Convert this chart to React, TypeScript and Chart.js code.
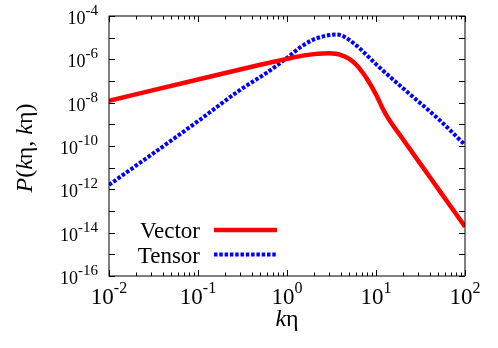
import React, { useEffect, useRef } from "react";
import { Chart, registerables } from "chart.js";

Chart.register(...registerables);

// ---- data ----
const vectorK = [0.01, 0.1, 0.5, 1, 1.5, 2, 2.5, 3, 3.5, 4, 5, 6, 7, 8, 10, 12, 14, 20, 30, 50, 100];
const vectorP = [1.23e-8, 1.17e-7, 5.6e-7, 1.05e-6, 1.48e-6, 1.74e-6, 1.86e-6, 1.9e-6, 1.82e-6, 1.62e-6, 1.05e-6, 5.6e-7, 2.6e-7, 1.17e-7, 2.4e-8, 5.0e-9, 1.66e-9, 2.1e-10, 2.0e-11, 1.05e-12, 1.9e-14];

const tensorK = [0.01, 0.1, 0.3, 0.6, 1, 1.5, 2, 2.5, 3, 3.5, 4, 4.5, 5, 6, 7, 10, 20, 50, 100];
const tensorP = [1.6e-12, 1.4e-9, 4.0e-8, 2.5e-7, 1.17e-6, 4.3e-6, 8.3e-6, 1.12e-5, 1.32e-5, 1.41e-5, 1.32e-5, 1.05e-5, 7.9e-6, 4.4e-6, 2.5e-6, 6.0e-7, 4.7e-8, 1.8e-9, 1.12e-10];

const seriesLabels = ["Vector", "Tensor"];
const xTickExponents = [-2, -1, 0, 1, 2];
const yTickExponents = [-4, -6, -8, -10, -12, -14, -16];
const xMin = 1e-2;
const xMax = 1e2;
const yMin = 1e-16;
const yMax = 1e-4;

const SERIF = '"Liberation Serif", "DejaVu Serif", serif';

function drawPow(ctx: CanvasRenderingContext2D, exp: number, x: number, baseline: number, baseSize: number, supSize: number, raise: number, align: "center" | "right") {
  const base = "10";
  const sup = String(exp);
  ctx.font = `${baseSize}px ${SERIF}`;
  const wb = ctx.measureText(base).width;
  ctx.font = `${supSize}px ${SERIF}`;
  const ws = ctx.measureText(sup).width;
  const total = wb + ws;
  const start = align === "center" ? x - total / 2 : x - total;
  ctx.textAlign = "left";
  ctx.textBaseline = "alphabetic";
  ctx.font = `${baseSize}px ${SERIF}`;
  ctx.fillText(base, start, baseline);
  ctx.font = `${supSize}px ${SERIF}`;
  ctx.fillText(sup, start + wb, baseline - raise);
}

function drawMixed(ctx: CanvasRenderingContext2D, parts: [string, boolean][], size: number, cx: number, baseline: number) {
  let total = 0;
  const widths: number[] = [];
  for (const [t, it] of parts) {
    ctx.font = `${it ? "italic " : ""}${size}px ${SERIF}`;
    const w = ctx.measureText(t).width;
    widths.push(w);
    total += w;
  }
  let x = cx - total / 2;
  ctx.textAlign = "left";
  ctx.textBaseline = "alphabetic";
  parts.forEach(([t, it], i) => {
    ctx.font = `${it ? "italic " : ""}${size}px ${SERIF}`;
    ctx.fillText(t, x, baseline);
    x += widths[i];
  });
}

const decor = {
  id: "decor",
  afterDraw(chart: any) {
    const { ctx, chartArea: a, scales } = chart;
    const xs = scales.x;
    const ys = scales.y;
    ctx.save();
    ctx.fillStyle = "#000";
    ctx.strokeStyle = "#000";
    ctx.lineWidth = 1;
    ctx.strokeRect(a.left, a.top, a.right - a.left, a.bottom - a.top);

    // x ticks (inward, mirrored)
    ctx.beginPath();
    for (let e = -2; e <= 2; e++) {
      for (let m = 1; m <= 9; m++) {
        const v = m * Math.pow(10, e);
        if (v > xMax * 1.0001) break;
        const px = Math.round(xs.getPixelForValue(v)) + 0.5;
        const len = m === 1 ? 6 : 3.5;
        ctx.moveTo(px, a.bottom);
        ctx.lineTo(px, a.bottom - len);
        ctx.moveTo(px, a.top);
        ctx.lineTo(px, a.top + len);
      }
    }
    // y ticks each decade
    for (let e = -16; e <= -4; e++) {
      const py = Math.round(ys.getPixelForValue(Math.pow(10, e))) + 0.5;
      ctx.moveTo(a.left, py);
      ctx.lineTo(a.left + 6, py);
      ctx.moveTo(a.right, py);
      ctx.lineTo(a.right - 6, py);
    }
    ctx.stroke();

    // x labels
    for (const e of xTickExponents) {
      const px = xs.getPixelForValue(Math.pow(10, e));
      drawPow(ctx, e, px, a.bottom + 28, 23, 16, 11, "center");
    }
    // y labels
    for (const e of yTickExponents) {
      const py = ys.getPixelForValue(Math.pow(10, e));
      drawPow(ctx, e, a.left - 11, py + 8, 18, 15, 9, "right");
    }

    // axis titles
    drawMixed(ctx, [["k", true], ["η", false]], 24, (a.left + a.right) / 2, a.bottom + 50);
    ctx.save();
    ctx.translate(32, (a.top + a.bottom) / 2 + 2);
    ctx.rotate(-Math.PI / 2);
    drawMixed(ctx, [["P", true], ["(", false], ["k", true], ["η, ", false], ["k", true], ["η)", false]], 24, 0, 0);
    ctx.restore();

    // legend
    const ds = chart.data.datasets;
    const rows = [230, 254.5];
    ds.forEach((d: any, i: number) => {
      ctx.font = `23px ${SERIF}`;
      ctx.textAlign = "right";
      ctx.textBaseline = "alphabetic";
      ctx.fillStyle = "#000";
      ctx.fillText(d.label, 200, rows[i] + 8);
      ctx.beginPath();
      ctx.strokeStyle = d.borderColor;
      ctx.lineWidth = d.borderWidth;
      ctx.lineCap = "butt";
      ctx.setLineDash(d.borderDash || []);
      ctx.moveTo(214, rows[i]);
      ctx.lineTo(277, rows[i]);
      ctx.stroke();
      ctx.setLineDash([]);
    });
    ctx.restore();
  },
};

export default function App() {
  const ref = useRef<HTMLCanvasElement>(null);
  useEffect(() => {
    if (!ref.current) return;
    const chart = new Chart(ref.current, {
      type: "line",
      data: {
        datasets: [
          {
            label: seriesLabels[0],
            data: vectorK.map((k, i) => ({ x: k, y: vectorP[i] })),
            borderColor: "#ff0000",
            borderWidth: 4.5,
            pointRadius: 0,
            cubicInterpolationMode: "monotone",
            fill: false,
          },
          {
            label: seriesLabels[1],
            data: tensorK.map((k, i) => ({ x: k, y: tensorP[i] })),
            borderColor: "#0000ff",
            borderWidth: 4,
            borderDash: [3.5, 1.8],
            borderCapStyle: "butt",
            pointRadius: 0,
            cubicInterpolationMode: "monotone",
            fill: false,
          },
        ],
      } as any,
      options: {
        responsive: false,
        animation: false,
        devicePixelRatio: 1,
        layout: { padding: { left: 109, right: 33, top: 16, bottom: 72 } },
        scales: {
          x: { type: "logarithmic", min: xMin, max: xMax, display: false },
          y: { type: "logarithmic", min: yMin, max: yMax, display: false },
        },
        plugins: { legend: { display: false }, tooltip: { enabled: false } },
      } as any,
      plugins: [decor],
    });
    return () => chart.destroy();
  }, []);
  return (
    <div style={{ position: "absolute", left: 0, top: 0, width: 498, height: 348, background: "#fff" }}>
      <canvas ref={ref} width={498} height={348} style={{ width: 498, height: 348, display: "block" }} />
    </div>
  );
}
